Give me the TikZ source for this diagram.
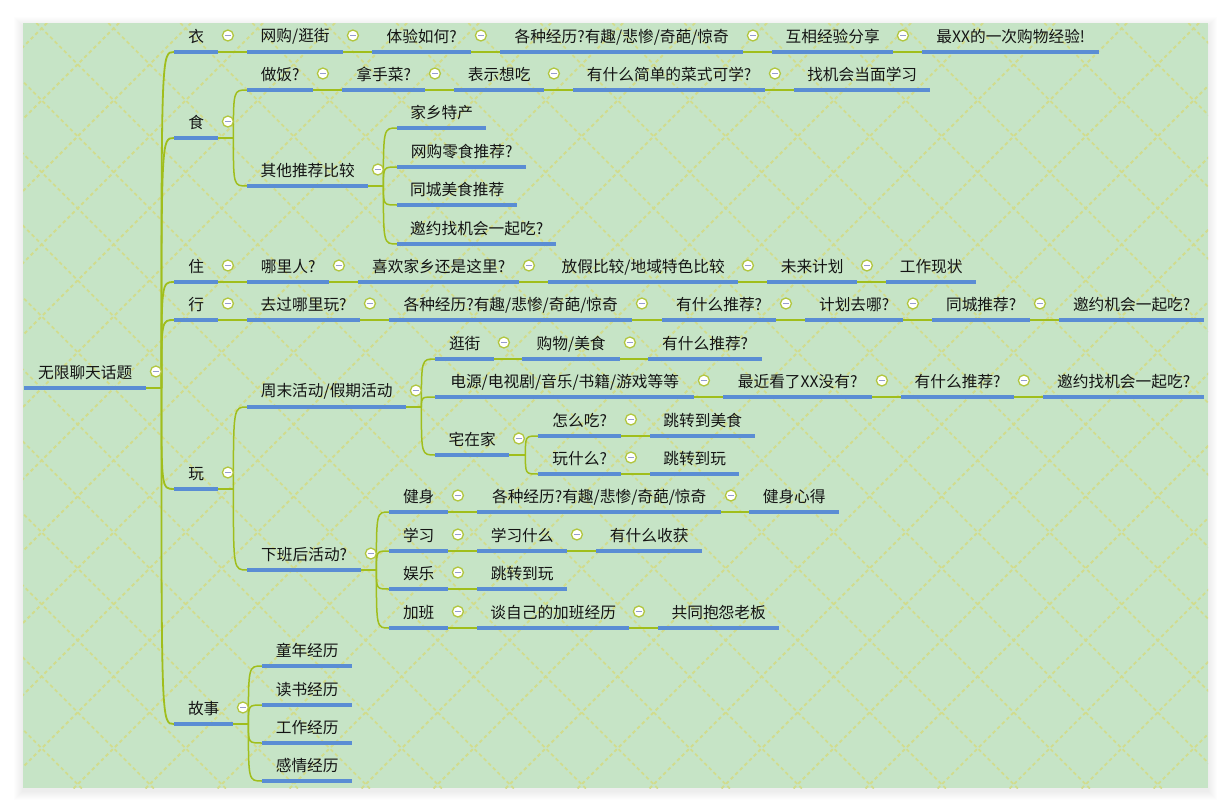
\documentclass[tikz,border=0pt]{standalone}
\usepackage{fontspec}
\setmainfont{Noto Sans CJK SC}
\usetikzlibrary{calc}
\definecolor{bgc}{RGB}{198,228,198}
\definecolor{patc}{RGB}{210,220,140}
\definecolor{linec}{RGB}{160,190,28}
\definecolor{ulc}{RGB}{90,141,212}
\definecolor{circc}{RGB}{178,198,64}
\definecolor{minc}{RGB}{150,156,206}
\definecolor{txtc}{RGB}{20,20,20}
\tikzset{
  mmtext/.style={inner sep=0pt, minimum height=30pt, text=txtc, font=\fontsize{15.7}{18}\selectfont},
  uline/.style={draw=ulc, line width=4pt},
  conn/.style={draw=linec, line width=1.5pt},
  pat/.style={draw=patc, line width=1.8pt, dash pattern=on 3.5pt off 3pt},
  collapse/.style={circle, draw=circc, line width=1.3pt, fill=white, minimum size=11pt, inner sep=0pt,
    path picture={\draw[minc, line width=1.6pt] ($(path picture bounding box.center)+(-3,0)$) -- ($(path picture bounding box.center)+(3,0)$);}}
}
\newcommand\mmnode[5]{\node[mmtext, minimum width={#3pt-#2pt}, anchor=south west] (#1) at (#2,#4) {#5};}
\newcommand\mmcirc[1]{\node[collapse] (#1-btn) at ($(#1.south east)+(9.5,-16.5)$) {};}
\newcommand\mmlink[2]{\draw[conn] (#1.south east) -- (#2.south west);}
\newcommand\mmfork[3]{%
  \coordinate (#1-J) at ($(#1.south east)+(#2,0)$);
  \draw[conn] (#1.south east) -- (#1-J);
  \foreach \ch in {#3} {\draw[conn] (#1-J) .. controls (#1-J |- \ch.south west) .. (\ch.south west);}
}
\begin{document}
\begin{tikzpicture}[x=1pt, y=-1pt]
\useasboundingbox (0,0) rectangle (1231,811);
\fill[white] (0,0) rectangle (1231,811);
% shadow
\foreach \i in {1,...,9} {\fill[black, opacity=0.007] ({23-\i},{23-\i+3}) rectangle ({1208+\i},{788+\i+3});}
\fill[bgc] (23,23) rectangle (1208,788);
\begin{scope}
  \clip (23,23) rectangle (1208,788);
  \foreach \k in {-12,...,18} {\draw[pat] ({13.4+72*\k},0) -- ({13.4+72*\k+811},811);}
  \foreach \k in {0,...,29} {\draw[pat] ({-2+72*\k},0) -- ({-2+72*\k-811},811);}
\end{scope}

% ---------- nodes ----------
\mmnode{root}{24}{146}{388}{无限聊天话题}
\mmnode{yi}{174}{218}{52}{衣}
\mmnode{shi}{174}{218}{138}{食}
\mmnode{zhu}{174}{218}{282}{住}
\mmnode{xing}{174}{218}{320}{行}
\mmnode{wan}{174}{218}{489}{玩}
\mmnode{gs}{174}{233}{724}{故事}

\mmnode{y1}{247}{343}{52}{网购/逛街}
\mmnode{y2}{372}{471}{52}{体验如何?}
\mmnode{y3}{500}{743}{52}{各种经历?有趣/悲惨/奇葩/惊奇}
\mmnode{y4}{772}{893}{52}{互相经验分享}
\mmnode{y5}{922}{1099}{52}{最XX的一次购物经验!}

\mmnode{s1}{247}{313}{90}{做饭?}
\mmnode{s2}{342}{425}{90}{拿手菜?}
\mmnode{s3}{454}{544}{90}{表示想吃}
\mmnode{s4}{573}{765}{90}{有什么简单的菜式可学?}
\mmnode{s5}{794}{930}{90}{找机会当面学习}
\mmnode{s6}{247}{368}{186}{其他推荐比较}
\mmnode{s6a}{397}{486}{128}{家乡特产}
\mmnode{s6b}{397}{526}{167}{网购零食推荐?}
\mmnode{s6c}{397}{517}{205}{同城美食推荐}
\mmnode{s6d}{397}{556}{244}{邀约找机会一起吃?}

\mmnode{z1}{247}{329}{282}{哪里人?}
\mmnode{z2}{358}{519}{282}{喜欢家乡还是这里?}
\mmnode{z3}{548}{738}{282}{放假比较/地域特色比较}
\mmnode{z4}{767}{857}{282}{未来计划}
\mmnode{z5}{886}{976}{282}{工作现状}

\mmnode{x1}{247}{360}{320}{去过哪里玩?}
\mmnode{x2}{389}{632}{320}{各种经历?有趣/悲惨/奇葩/惊奇}
\mmnode{x3}{662}{776}{320}{有什么推荐?}
\mmnode{x4}{805}{903}{320}{计划去哪?}
\mmnode{x5}{932}{1030}{320}{同城推荐?}
\mmnode{x6}{1059}{1204}{320}{邀约机会一起吃?}

\mmnode{w1}{247}{406}{407}{周末活动/假期活动}
\mmnode{w1a}{435}{494}{359}{逛街}
\mmnode{w1a2}{522}{620}{359}{购物/美食}
\mmnode{w1a3}{648}{762}{359}{有什么推荐?}
\mmnode{w1b}{435}{694}{397}{电源/电视剧/音乐/书籍/游戏等等}
\mmnode{w1b2}{723}{872}{397}{最近看了XX没有?}
\mmnode{w1b3}{901}{1014}{397}{有什么推荐?}
\mmnode{w1b4}{1043}{1204}{397}{邀约找机会一起吃?}
\mmnode{w1c}{435}{509}{455}{宅在家}
\mmnode{w1c1}{538}{621}{436}{怎么吃?}
\mmnode{w1c1b}{650}{755}{436}{跳转到美食}
\mmnode{w1c2}{538}{621}{474}{玩什么?}
\mmnode{w1c2b}{650}{739}{474}{跳转到玩}

\mmnode{w2}{247}{361}{570}{下班后活动?}
\mmnode{w2a}{389}{448}{512}{健身}
\mmnode{w2a2}{477}{721}{512}{各种经历?有趣/悲惨/奇葩/惊奇}
\mmnode{w2a3}{749}{839}{512}{健身心得}
\mmnode{w2b}{389}{448}{551}{学习}
\mmnode{w2b2}{477}{567}{551}{学习什么}
\mmnode{w2b3}{596}{702}{551}{有什么收获}
\mmnode{w2c}{389}{448}{589}{娱乐}
\mmnode{w2c2}{477}{567}{589}{跳转到玩}
\mmnode{w2d}{389}{448}{628}{加班}
\mmnode{w2d2}{477}{629}{628}{谈自己的加班经历}
\mmnode{w2d3}{658}{779}{628}{共同抱怨老板}

\mmnode{g1}{262}{352}{666}{童年经历}
\mmnode{g2}{262}{352}{705}{读书经历}
\mmnode{g3}{262}{352}{743}{工作经历}
\mmnode{g4}{262}{352}{781}{感情经历}

% ---------- connectors ----------
\begin{scope}[conn/.append style={line width=1.8pt}]
\mmfork{root}{15}{yi,shi,zhu,xing,wan,gs}
\end{scope}
\mmlink{yi}{y1}\mmlink{y1}{y2}\mmlink{y2}{y3}\mmlink{y3}{y4}\mmlink{y4}{y5}
\mmfork{shi}{15}{s1,s6}
\mmlink{s1}{s2}\mmlink{s2}{s3}\mmlink{s3}{s4}\mmlink{s4}{s5}
\mmfork{s6}{15}{s6a,s6b,s6c,s6d}
\mmlink{zhu}{z1}\mmlink{z1}{z2}\mmlink{z2}{z3}\mmlink{z3}{z4}\mmlink{z4}{z5}
\mmlink{xing}{x1}\mmlink{x1}{x2}\mmlink{x2}{x3}\mmlink{x3}{x4}\mmlink{x4}{x5}\mmlink{x5}{x6}
\mmfork{wan}{15}{w1,w2}
\mmfork{w1}{15}{w1a,w1b,w1c}
\mmlink{w1a}{w1a2}\mmlink{w1a2}{w1a3}
\mmlink{w1b}{w1b2}\mmlink{w1b2}{w1b3}\mmlink{w1b3}{w1b4}
\mmfork{w1c}{16}{w1c1,w1c2}
\mmlink{w1c1}{w1c1b}\mmlink{w1c2}{w1c2b}
\mmfork{w2}{15}{w2a,w2b,w2c,w2d}
\mmlink{w2a}{w2a2}\mmlink{w2a2}{w2a3}
\mmlink{w2b}{w2b2}\mmlink{w2b2}{w2b3}
\mmlink{w2c}{w2c2}
\mmlink{w2d}{w2d2}\mmlink{w2d2}{w2d3}
\mmfork{gs}{15}{g1,g2,g3,g4}

% ---------- underlines ----------
\foreach \n in {root,yi,shi,zhu,xing,wan,gs,y1,y2,y3,y4,y5,s1,s2,s3,s4,s5,s6,s6a,s6b,s6c,s6d,
  z1,z2,z3,z4,z5,x1,x2,x3,x4,x5,x6,w1,w1a,w1a2,w1a3,w1b,w1b2,w1b3,w1b4,w1c,w1c1,w1c1b,w1c2,w1c2b,
  w2,w2a,w2a2,w2a3,w2b,w2b2,w2b3,w2c,w2c2,w2d,w2d2,w2d3,g1,g2,g3,g4}
  {\draw[uline] (\n.south west) -- (\n.south east);}

% ---------- collapse buttons ----------
\foreach \n in {root,yi,y1,y2,y3,y4,shi,s1,s2,s3,s4,s6,zhu,z1,z2,z3,z4,xing,x1,x2,x3,x4,x5,
  wan,w1,w1a,w1a2,w1b,w1b2,w1b3,w1c,w1c1,w1c2,w2,w2a,w2a2,w2b,w2b2,w2c,w2d,w2d2,gs}
  {\mmcirc{\n}}
\end{tikzpicture}
\end{document}
